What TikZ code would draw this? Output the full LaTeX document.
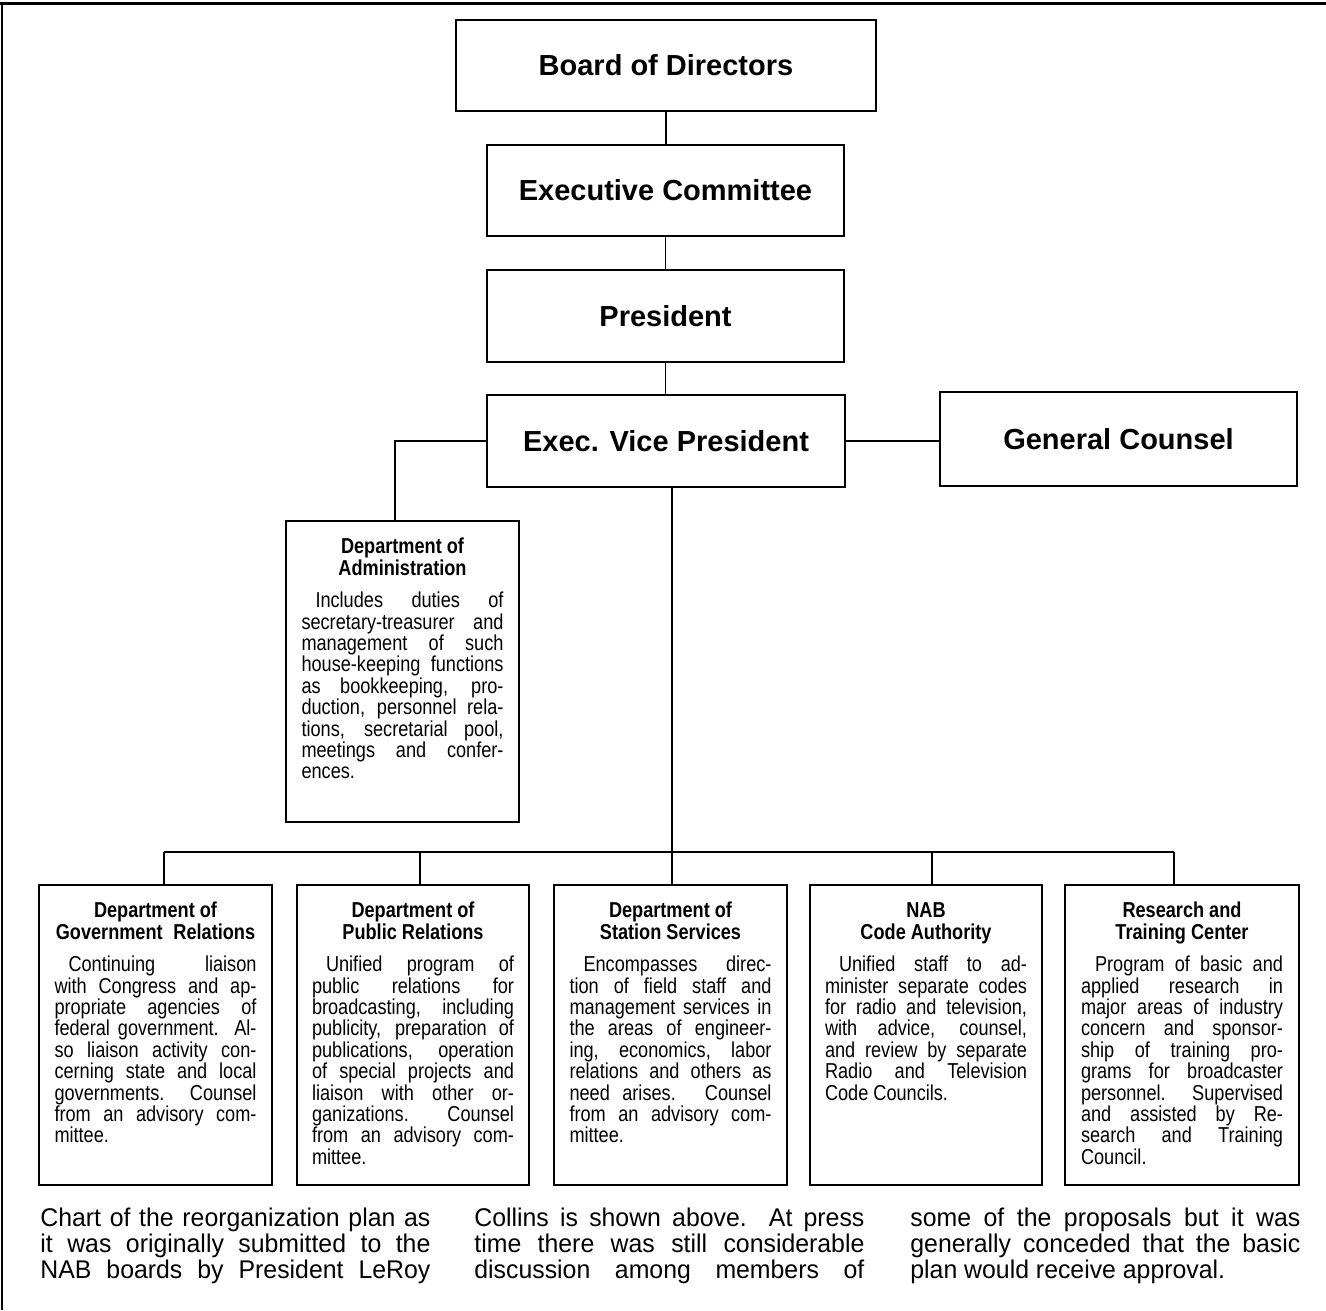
\documentclass[tikz,border=0pt]{standalone}
\usepackage{fontspec}
\setmainfont{Liberation Sans}
\newfontfamily\condfont{Liberation Sans}[FakeStretch=0.84]
\newfontfamily\captfont{Liberation Sans}[FakeStretch=0.97]
\usetikzlibrary{positioning}
\newcommand{\nlb}{\linebreak}
\newcommand{\deptcontent}[3]{%
\parbox[t]{101pt}{\condfont\fontsize{10.8}{11}\selectfont
{\centering\bfseries #1\\#2\par}\vspace{5.5pt}%
\fontsize{10.8}{10.7}\selectfont\tolerance=10000\hbadness=10000\hyphenpenalty=10000\exhyphenpenalty=10000
\hspace*{7pt}#3\par}}
\newcommand{\captcol}[2]{%
\parbox[t]{195pt}{\captfont\fontsize{12.8}{13}\selectfont\tolerance=10000\hbadness=10000\hyphenpenalty=10000
\parfillskip=#1 #2\par}}
\tikzset{
 topbox/.style={draw, line width=0.8pt, minimum height=45.5pt, inner sep=0pt,
   font=\fontsize{14.5}{17}\selectfont\bfseries},
 deptbox/.style={draw, line width=0.8pt, minimum width=116.5pt, minimum height=150pt, inner sep=0pt},
 depttext/.style={inner sep=0pt, anchor=base, yshift=-16.5pt},
 conn/.style={line width=0.6pt},
 capt/.style={inner sep=0pt, anchor=base west},
}
\begin{document}
\begin{tikzpicture}[x=0.5pt,y=-0.5pt]
\useasboundingbox (0,0) rectangle (1326,1310);
% frame
\draw[line width=1.5pt] (0,4) -- (1326,4);
\draw[line width=1pt] (2,4) -- (2,1310);
% top chain
\node[topbox, minimum width=210pt] (board) at (666,65.5) {Board of Directors};
\node[topbox, minimum width=178.5pt] (ecomm) at (665.5,190.5) {Executive Committee};
\node[topbox, minimum width=178.5pt, minimum height=46pt] (pres) at (665.5,316) {President};
\node[topbox, minimum width=179pt, minimum height=46pt] (evp) at (666,441) {Exec. Vice President};
\node[topbox, minimum width=178.5pt, minimum height=47pt] (gc) at (1118.5,439) {General Counsel};
% departments
\node[deptbox, minimum height=150.5pt] (admin) at (402.5,671.5) {};
\node[deptbox] (gov) at (155.5,1035) {};
\node[deptbox, minimum width=116pt] (pub) at (413,1035) {};
\node[deptbox] (stat) at (670.5,1035) {};
\node[deptbox, minimum width=116pt] (code) at (926,1035) {};
\node[deptbox, minimum width=117pt] (res) at (1182,1035) {};
% texts
\node[depttext] (admintxt) at (admin.north) {\deptcontent{Department of}{Administration}{Includes duties of\nlb secretary-treasurer and\nlb management of such\nlb house-keeping functions\nlb as bookkeeping, pro-\nlb duction, personnel rela-\nlb tions, secretarial pool,\nlb meetings and confer-\nlb ences.}};
\node[depttext] (govtxt) at (gov.north) {\deptcontent{Department of}{Government\enspace Relations}{Continuing liaison\nlb with Congress and ap-\nlb propriate agencies of\nlb federal government. Al-\nlb so liaison activity con-\nlb cerning state and local\nlb governments. Counsel\nlb from an advisory com-\nlb mittee.}};
\node[depttext] (pubtxt) at (pub.north) {\deptcontent{Department of}{Public Relations}{Unified program of\nlb public relations for\nlb broadcasting, including\nlb publicity, preparation of\nlb publications, operation\nlb of special projects and\nlb liaison with other or-\nlb ganizations. Counsel\nlb from an advisory com-\nlb mittee.}};
\node[depttext] (stattxt) at (stat.north) {\deptcontent{Department of}{Station Services}{Encompasses direc-\nlb tion of field staff and\nlb management services in\nlb the areas of engineer-\nlb ing, economics, labor\nlb relations and others as\nlb need arises. Counsel\nlb from an advisory com-\nlb mittee.}};
\node[depttext] (codetxt) at (code.north) {\deptcontent{NAB}{Code Authority}{Unified staff to ad-\nlb minister separate codes\nlb for radio and television,\nlb with advice, counsel,\nlb and review by separate\nlb Radio and Television\nlb Code Councils.}};
\node[depttext] (restxt) at (res.north) {\deptcontent{Research and}{Training Center}{Program of basic and\nlb applied research in\nlb major areas of industry\nlb concern and sponsor-\nlb ship of training pro-\nlb grams for broadcaster\nlb personnel. Supervised\nlb and assisted by Re-\nlb search and Training\nlb Council.}};
% connectors
\draw[conn] (board.south) -- (board.south |- ecomm.north);
\draw[conn] (ecomm.south) -- (ecomm.south |- pres.north);
\draw[conn] (pres.south) -- (pres.south |- evp.north);
\draw[conn] (evp.east) -- (gc.west |- evp.east);
\draw[conn] (evp.west) -| ([xshift=-3.75pt]admin.north);
\coordinate (bus1) at (164,852);
\coordinate (bus2) at (420,852);
\coordinate (bus3) at (672,852);
\coordinate (bus4) at (932,852);
\coordinate (bus5) at (1174,852);
\draw[conn] (evp.south -| bus3) -- (bus3);
\draw[conn] (bus1) -- (bus5);
\draw[conn] (bus1) -- (bus1 |- gov.north);
\draw[conn] (bus2) -- (bus2 |- pub.north);
\draw[conn] (bus3) -- (bus3 |- stat.north);
\draw[conn] (bus4) -- (bus4 |- code.north);
\draw[conn] (bus5) -- (bus5 |- res.north);
% caption
\node[capt] (cap1) at (40,1226) {\captcol{0pt}{Chart of the reorganization plan as\nlb it was originally submitted to the\nlb NAB boards by President LeRoy}};
\node[capt] (cap2) at (474,1226) {\captcol{0pt}{Collins is shown above. At press\nlb time there was still considerable\nlb discussion among members of}};
\node[capt] (cap3) at (910,1226) {\captcol{0pt plus 1fil}{some of the proposals but it was\nlb generally conceded that the basic\nlb plan would receive approval.}};
\end{tikzpicture}
\end{document}
